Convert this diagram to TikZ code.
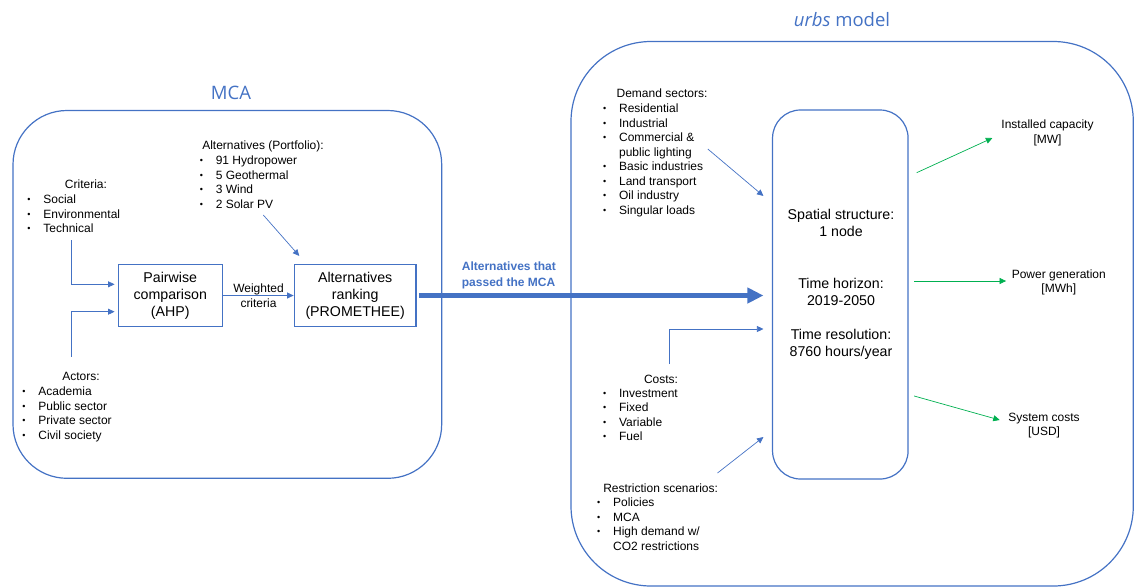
\documentclass[tikz,border=0pt]{standalone}
\usepackage{fontspec}
\setmainfont{Liberation Sans}
\newfontfamily\titlefont{Open Sans}
\usepackage{xcolor}
\usetikzlibrary{positioning, calc, arrows.meta}

\definecolor{mcablue}{HTML}{4472C4}
\definecolor{outgreen}{HTML}{00B050}

\newcommand{\lbl}{\fontsize{12}{14.5}\selectfont}
\newcommand{\blt}{\makebox[16pt][l]{\raisebox{0.9pt}{\scalebox{0.75}{\textbullet}}}}
\newcommand{\nob}{\makebox[16pt][l]{}}

\tikzset{
  frame/.style={draw=mcablue, line width=1.2pt, rounded corners=#1},
  procbox/.style={draw=mcablue, line width=1.5pt, align=center, inner sep=0pt,
    font=\fontsize{14.2}{17}\selectfont},
  listtxt/.style={align=left, anchor=north west, inner sep=0pt, font=\lbl},
  headtxt/.style={anchor=base, inner sep=0pt, font=\lbl},
  coretxt/.style={align=center, inner sep=0pt, font=\fontsize{14.2}{17}\selectfont},
  feed/.style={draw=mcablue, line width=0.7pt, -{Triangle[length=6.5pt,width=6pt]}},
  yield/.style={draw=outgreen, line width=0.7pt, -{Triangle[length=6.5pt,width=6pt]}},
  passed/.style={draw=mcablue, line width=5pt, -{Triangle[length=16pt,width=15pt]}},
}

\begin{document}
\begin{tikzpicture}[x=1pt, y=-1pt]
  \useasboundingbox (0,0) rectangle (1134,587);

  % MCA part
  \draw[frame=54pt] (13,110.5) rectangle (441.7,478.3);
  \node[anchor=base, inner sep=0pt, text=mcablue, font=\titlefont\fontsize{18.5}{22}\selectfont] (mcatitle) at (231,99.6) {MCA};

  \node[procbox, minimum width=104pt, minimum height=62.4pt] (pair) at (170.3,295.5) {Pairwise\\comparison\\(AHP)};
  \node[procbox, minimum width=121.7pt, minimum height=62.4pt] (rank) at (355.2,295.5) {Alternatives\\ranking\\(PROMETHEE)};

  \node[headtxt] (crithead) at (86,188.3) {Criteria:};
  \node[listtxt] (crit) at (27.2,194.6) {\blt Social\\\blt Environmental\\\blt Technical};
  \node[headtxt] (acthead) at (81,380.3) {Actors:};
  \node[listtxt] (act) at (22.2,386.6) {\blt Academia\\\blt Public sector\\\blt Private sector\\\blt Civil society};
  \node[headtxt] (althead) at (263,149.3) {Alternatives (Portfolio):};
  \node[listtxt] (alt) at (199.6,155.6) {\blt 91 Hydropower\\\blt 5 Geothermal\\\blt 3 Wind\\\blt 2 Solar PV};

  \coordinate (critfoot) at (71.3,240);
  \coordinate (actfoot) at (71.3,356.7);
  \coordinate (altfoot) at (263.3,215);
  \draw[feed] (critfoot) |- ([shift={(-3,-11.2)}]pair.west);
  \draw[feed] (actfoot) |- ([shift={(-3,16.2)}]pair.west);
  \draw[feed] (altfoot) -- ([shift={(5.7,-7.6)}]rank.north west);
  \draw[feed] (pair.east) -- (rank.west);
  \node[align=center, inner sep=0pt, font=\fontsize{12}{15}\selectfont] (weight) at (258.5,295.5) {Weighted\\criteria};

  % urbs part
  \draw[frame=80pt] (571,41.5) rectangle (1133.3,586);
  \node[anchor=base, inner sep=0pt, text=mcablue, font=\titlefont\fontsize{18.5}{22}\selectfont] (urbstitle) at (842,26.6) {\textit{urbs} model};

  \node[draw=mcablue, line width=1.2pt, rounded corners=28pt, minimum width=135.5pt, minimum height=369pt] (core) at (840.3,294.5) {};
  \node[coretxt] (spatial) at (841,222.5) {Spatial structure:\\1 node};
  \node[coretxt] (horizon) at (841,292) {Time horizon:\\2019-2050};
  \node[coretxt] (resol) at (841,344) {Time resolution:\\8760 hours/year};

  \node[headtxt] (demhead) at (662,97.3) {Demand sectors:};
  \node[listtxt] (dem) at (602.9,103.6) {\blt Residential\\\blt Industrial\\\blt Commercial \&\\\nob public lighting\\\blt Basic industries\\\blt Land transport\\\blt Oil industry\\\blt Singular loads};
  \node[headtxt] (costhead) at (661,383.3) {Costs:};
  \node[listtxt] (cost) at (602.9,388.6) {\blt Investment\\\blt Fixed\\\blt Variable\\\blt Fuel};
  \node[headtxt] (reshead) at (660.6,492.3) {Restriction scenarios:};
  \node[listtxt] (res) at (596.9,497.6) {\blt Policies\\\blt MCA\\\blt High demand w/\\\nob CO2 restrictions};

  \coordinate (demfoot) at (707.8,149);
  \coordinate (costfoot) at (669,364);
  \coordinate (resfoot) at (717.5,473);
  \draw[feed] (demfoot) -- ([shift={(-8.5,-98.5)}]core.west);
  \draw[feed] (costfoot) |- ([shift={(-8.5,34.5)}]core.west);
  \draw[feed] (resfoot) -- ([shift={(-8.5,142.5)}]core.west);

  % link between both parts
  \draw[passed] ([xshift=2pt]rank.east) -- ([xshift=-8.5pt]core.west |- rank.east);
  \node[align=left, anchor=north west, inner sep=0pt, text=mcablue, font=\bfseries\fontsize{12}{15.7}\selectfont] (passlbl) at (461.7,261.7) {Alternatives that\\passed the MCA};

  % outputs
  \node[align=center, inner sep=0pt, font=\lbl] (cap) at (1047.5,133) {Installed capacity\\{[MW]}};
  \node[align=center, inner sep=0pt, font=\lbl] (gen) at (1058.8,282.5) {Power generation\\{[MWh]}};
  \node[align=center, inner sep=0pt, font=\lbl] (sys) at (1044,425.5) {System costs\\{[USD]}};
  \draw[yield] ([shift={(8,-121.8)}]core.east) -- ([shift={(-8.9,5)}]cap.west);
  \draw[yield] ([shift={(5.5,-13.5)}]core.east) -- ([xshift=-5.5pt]gen.west |- 0,281);
  \draw[yield] ([shift={(5.5,101.5)}]core.east) -- ([shift={(-8.4,-5.5)}]sys.west);
\end{tikzpicture}
\end{document}
